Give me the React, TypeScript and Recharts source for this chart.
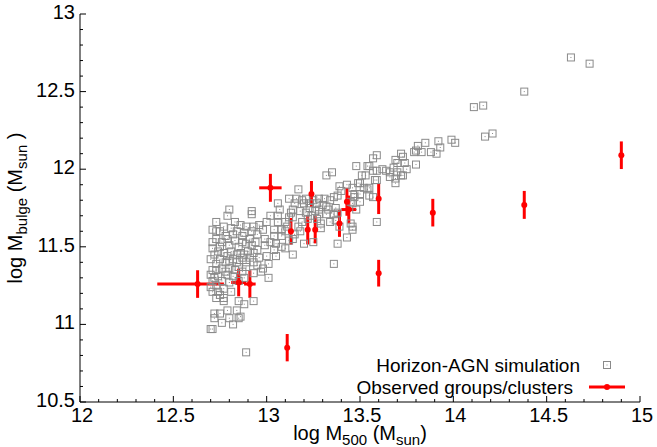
import React from 'react';
import { ScatterChart, Scatter, XAxis, YAxis, ErrorBar } from 'recharts';

const W = 657;
const H = 447;
const FONT = '"Liberation Sans", Arial, sans-serif';

// tick labels (major) – minor ticks every 0.1
const xMajorTicks = [12, 12.5, 13, 13.5, 14, 14.5, 15];
const yMajorTicks = [10.5, 11, 11.5, 12, 12.5, 13];
const xTicks = Array.from({ length: 31 }, (_, i) => Math.round((12 + i * 0.1) * 10) / 10);
const yTicks = Array.from({ length: 26 }, (_, i) => Math.round((10.5 + i * 0.1) * 10) / 10);

// Horizon-AGN simulation: [log M500, log Mbulge]
const horizonAgn: [number, number][] = [
  [13.99, 12.19], [14.01, 12.17], [13.92, 12.18], [13.93, 12.14], [13.85, 12.17], [13.81, 12.15],
  [13.8, 12.12], [13.83, 12.11], [13.88, 12.11], [13.91, 12.1], [13.79, 12.11], [13.72, 12.1],
  [13.73, 12.08], [13.69, 12.06], [13.7, 12.04], [13.74, 12.04], [13.8, 12.03], [13.75, 12.0],
  [13.68, 12.01], [13.64, 11.99], [13.66, 11.98], [13.7, 11.98], [13.72, 11.96], [13.66, 11.95],
  [13.69, 11.94], [13.69, 11.91], [13.73, 11.96], [13.59, 12.09], [13.54, 12.02], [13.57, 11.99],
  [13.59, 11.99], [13.62, 12.0], [13.53, 11.96], [13.5, 11.91], [13.58, 11.93], [13.59, 11.93],
  [13.55, 11.88], [13.39, 11.89], [13.4, 11.86], [13.38, 11.83], [13.36, 11.82], [13.34, 11.8],
  [13.31, 11.81], [13.28, 11.81], [13.25, 11.8], [13.21, 11.81], [13.19, 11.8], [13.16, 11.81],
  [13.57, 11.82], [13.47, 11.82], [13.46, 11.78], [13.48, 11.74], [13.37, 11.75], [13.32, 11.71],
  [13.28, 11.71], [13.29, 11.62], [13.39, 11.63], [13.46, 11.63], [13.43, 11.56], [13.2, 11.52],
  [13.25, 11.53], [13.14, 11.45], [13.18, 11.73], [13.14, 11.74], [13.14, 11.69], [13.23, 11.75],
  [13.2, 11.78], [13.15, 11.78],
  [14.38, 12.5], [14.11, 12.4], [14.16, 12.41], [14.17, 12.21], [14.21, 12.23], [14.63, 12.72], [14.73, 12.68],
  [13.32, 11.96], [13.35, 11.98], [13.48, 12.02], [13.55, 12.02], [13.57, 12.07], [13.17, 11.87],
  [13.12, 11.81], [13.06, 11.78], [13.07, 11.74], [13.06, 11.7], [13.13, 11.72], [13.21, 11.72],
  [13.28, 11.74], [13.27, 11.68], [13.29, 11.65], [13.36, 11.71], [13.38, 11.72], [13.37, 11.67],
  [13.34, 11.66], [13.32, 11.76], [13.43, 11.9], [13.46, 11.88], [13.49, 11.91], [13.5, 11.84],
  [13.47, 11.84], [13.45, 11.79], [13.5, 11.79], [13.52, 11.88], [13.54, 11.87], [13.55, 11.83],
  [13.51, 11.96], [13.46, 11.61], [13.45, 11.65], [13.38, 11.52], [13.36, 11.39], [13.59, 11.66],
  [12.92, 11.73], [12.92, 11.71], [12.8, 11.74], [12.79, 11.7], [12.73, 11.66], [12.71, 11.61],
  [12.75, 11.6], [12.83, 11.66], [12.86, 11.64], [12.89, 11.63], [12.93, 11.63], [12.96, 11.64],
  [13.0, 11.66], [13.02, 11.7], [13.06, 11.66], [13.04, 11.61], [13.08, 11.61], [13.11, 11.63],
  [12.98, 11.61], [12.95, 11.58], [12.91, 11.55], [12.87, 11.57], [12.82, 11.58], [12.78, 11.57],
  [12.73, 11.55], [12.71, 11.53], [12.71, 11.49], [12.75, 11.5], [12.8, 11.51], [12.85, 11.5],
  [12.89, 11.52], [12.94, 11.53], [12.99, 11.55], [13.04, 11.57], [13.08, 11.57], [13.12, 11.54],
  [13.14, 11.55], [12.99, 11.51], [12.95, 11.48], [12.9, 11.47], [12.86, 11.46], [12.81, 11.47],
  [12.77, 11.46], [12.72, 11.45], [12.7, 11.42], [12.73, 11.39], [12.78, 11.4], [12.82, 11.42],
  [12.87, 11.43], [12.91, 11.43], [12.96, 11.43], [13.0, 11.44], [13.04, 11.48], [13.08, 11.5],
  [13.01, 11.39], [12.98, 11.36], [12.95, 11.38], [12.89, 11.37], [12.85, 11.37], [12.8, 11.36],
  [12.76, 11.36], [12.71, 11.35], [12.7, 11.32], [12.74, 11.31], [12.79, 11.32], [12.82, 11.31],
  [12.71, 11.28], [12.71, 11.21], [12.75, 11.19], [12.73, 11.17], [12.81, 11.21], [12.85, 11.28],
  [12.88, 11.3], [12.93, 11.33], [13.01, 11.3], [12.8, 11.27], [12.77, 11.15], [12.85, 11.15],
  [12.88, 11.13], [12.93, 11.15], [12.84, 11.09], [12.86, 11.05], [12.79, 11.09], [12.72, 11.07],
  [12.72, 11.04], [12.76, 11.01], [12.82, 11.0], [12.7, 10.97], [12.71, 10.97], [12.89, 10.82],
  [12.97, 11.34], [12.8, 11.04], [12.85, 11.04], [12.75, 11.07], [12.77, 11.17], [12.7, 11.24],
  [13.05, 11.44], [13.1, 11.66], [13.12, 11.69], [13.17, 11.63], [13.19, 11.66], [13.22, 11.68],
  [13.24, 11.7], [13.26, 11.73], [13.3, 11.77], [13.33, 11.74], [13.23, 11.78], [13.27, 11.78],
  [13.1, 11.6], [13.15, 11.58], [13.18, 11.6], [13.05, 11.52], [13.1, 11.49], [13.02, 11.53],
  [12.73, 11.6], [12.77, 11.63], [12.81, 11.62], [12.84, 11.6], [12.88, 11.59], [12.92, 11.6],
  [12.76, 11.53], [12.79, 11.55], [12.83, 11.54], [12.87, 11.53], [12.92, 11.51], [12.74, 11.47],
  [12.79, 11.44], [12.84, 11.45], [12.88, 11.45], [12.93, 11.46], [12.75, 11.42], [12.8, 11.41],
  [12.84, 11.4], [12.89, 11.4], [12.93, 11.4], [12.73, 11.35], [12.78, 11.34], [12.83, 11.35],
  [12.87, 11.34], [12.72, 11.3], [12.76, 11.28], [12.73, 11.25], [12.77, 11.23], [12.74, 11.21],
];

// Observed groups/clusters
const obsLogM500 = [13.02, 13.24, 13.13, 13.22, 13.26, 13.39, 13.43, 13.44, 13.6, 13.6, 13.11, 12.63, 12.85, 12.91, 13.89, 14.38, 14.9];
const obsLogMbulge = [11.88, 11.84, 11.6, 11.61, 11.61, 11.65, 11.79, 11.74, 11.81, 11.33, 10.85, 11.26, 11.27, 11.26, 11.72, 11.77, 12.09];
const obsErrM500: (number | [number, number])[] = [0.06, 0, 0, 0, 0, 0, 0, 0.04, 0, 0, 0, [0.216, 0.141], 0.04, 0.031, 0, 0, 0];
const obsErrMbulge = [0.09, 0.084, 0.086, 0.095, 0.088, 0.086, 0.09, 0.09, 0.099, 0.086, 0.088, 0.089, 0.089, 0.089, 0.089, 0.09, 0.089];

const simData = horizonAgn.map(([x, y]) => ({ x, y }));
const obsData = obsLogM500.map((x, i) => ({
  x,
  y: obsLogMbulge[i],
  xErr: obsErrM500[i],
  yErr: obsErrMbulge[i],
}));

const fmt = (v: number) => String(Number(v.toFixed(1)));
const isMajor = (v: number, majors: number[]) => majors.some((m) => Math.abs(m - v) < 1e-6);

const MAJOR = 6;
const MINOR = 3;

function BottomTick(props: any) {
  const { x, y, payload } = props;
  const major = isMajor(payload.value, xMajorTicks);
  return (
    <g>
      <line x1={x} y1={y} x2={x} y2={y - (major ? MAJOR : MINOR)} stroke="#000" />
      {major && (
        <text x={x + 2} y={y + 20} textAnchor="middle" fontSize={20} fontFamily={FONT} fill="#000">
          {fmt(payload.value)}
        </text>
      )}
    </g>
  );
}

function TopTick(props: any) {
  const { x, y, payload } = props;
  const major = isMajor(payload.value, xMajorTicks);
  return <line x1={x} y1={y} x2={x} y2={y + (major ? MAJOR : MINOR)} stroke="#000" />;
}

function LeftTick(props: any) {
  const { x, y, payload } = props;
  const major = isMajor(payload.value, yMajorTicks);
  return (
    <g>
      <line x1={x} y1={y} x2={x + (major ? MAJOR : MINOR)} y2={y} stroke="#000" />
      {major && (
        <text x={x - 5} y={y + 5} textAnchor="end" fontSize={20} fontFamily={FONT} fill="#000">
          {fmt(payload.value)}
        </text>
      )}
    </g>
  );
}

function RightTick(props: any) {
  const { x, y, payload } = props;
  const major = isMajor(payload.value, yMajorTicks);
  return <line x1={x} y1={y} x2={x - (major ? MAJOR : MINOR)} y2={y} stroke="#000" />;
}

function SimSquare(props: any) {
  const { cx, cy } = props;
  if (cx == null || cy == null) return null;
  return (
    <g>
      <rect x={cx - 3.5} y={cy - 3.5} width={7} height={7} fill="none" stroke="#8a8a8a" strokeWidth={1} />
      <rect x={cx - 0.5} y={cy - 0.5} width={1} height={1} fill="#8a8a8a" />
    </g>
  );
}

function ObsDot(props: any) {
  const { cx, cy } = props;
  if (cx == null || cy == null) return null;
  return <circle cx={cx} cy={cy} r={3} fill="#ff0000" />;
}

function Decor() {
  return (
    <g fontFamily={FONT} fill="#000">
      <text x={360} y={440} textAnchor="middle" fontSize={20}>
        log M<tspan fontSize={15} dy={5}>500</tspan>
        <tspan dy={-5}> (M</tspan>
        <tspan fontSize={15} dy={5}>sun</tspan>
        <tspan dy={-5}>)</tspan>
      </text>
      <text x={22} y={208} textAnchor="middle" fontSize={20} transform="rotate(-90 22 208)">
        log M<tspan fontSize={15} dy={5}>bulge</tspan>
        <tspan dy={-5}> (M</tspan>
        <tspan fontSize={15} dy={5}>sun</tspan>
        <tspan dy={-5}> )</tspan>
      </text>
      <text x={580} y={372} textAnchor="end" fontSize={19}>Horizon-AGN simulation</text>
      <text x={573} y={394} textAnchor="end" fontSize={19}>Observed groups/clusters</text>
      <rect x={603.5} y={361.5} width={7} height={7} fill="none" stroke="#8a8a8a" />
      <rect x={606.5} y={364.5} width={1} height={1} fill="#8a8a8a" />
      <line x1={589} y1={387} x2={625} y2={387} stroke="#ff0000" strokeWidth={3} />
      <circle cx={607} cy={387} r={3} fill="#ff0000" />
    </g>
  );
}

export default function App() {
  return (
    <div style={{ position: 'absolute', left: 0, top: 0, background: '#fff' }}>
      <ScatterChart width={W} height={H} margin={{ top: 14, right: 17, bottom: 0, left: 0 }}>
        <XAxis
          type="number"
          dataKey="x"
          domain={[12, 15]}
          ticks={xTicks}
          interval={0}
          tickSize={0}
          tickMargin={0}
          tickLine={false}
          axisLine={{ stroke: '#000' }}
          tick={(p: any) => <BottomTick {...p} />}
          height={45}
          allowDataOverflow
        />
        <XAxis
          xAxisId="top"
          orientation="top"
          type="number"
          domain={[12, 15]}
          ticks={xTicks}
          interval={0}
          tickSize={0}
          tickMargin={0}
          tickLine={false}
          axisLine={{ stroke: '#000' }}
          tick={(p: any) => <TopTick {...p} />}
          height={0}
          allowDataOverflow
        />
        <YAxis
          type="number"
          dataKey="y"
          domain={[10.5, 13]}
          ticks={yTicks}
          interval={0}
          tickSize={0}
          tickMargin={0}
          tickLine={false}
          axisLine={{ stroke: '#000' }}
          tick={(p: any) => <LeftTick {...p} />}
          width={80}
          allowDataOverflow
        />
        <YAxis
          yAxisId="right"
          orientation="right"
          type="number"
          domain={[10.5, 13]}
          ticks={yTicks}
          interval={0}
          tickSize={0}
          tickMargin={0}
          tickLine={false}
          axisLine={{ stroke: '#000' }}
          tick={(p: any) => <RightTick {...p} />}
          width={0}
          allowDataOverflow
        />
        <Scatter data={simData} shape={(p: any) => <SimSquare {...p} />} isAnimationActive={false} />
        <Scatter data={obsData} shape={(p: any) => <ObsDot {...p} />} isAnimationActive={false}>
          <ErrorBar dataKey="xErr" direction="x" stroke="#ff0000" strokeWidth={3} width={0} isAnimationActive={false} />
          <ErrorBar dataKey="yErr" direction="y" stroke="#ff0000" strokeWidth={3} width={0} isAnimationActive={false} />
        </Scatter>
        <Decor />
      </ScatterChart>
    </div>
  );
}
